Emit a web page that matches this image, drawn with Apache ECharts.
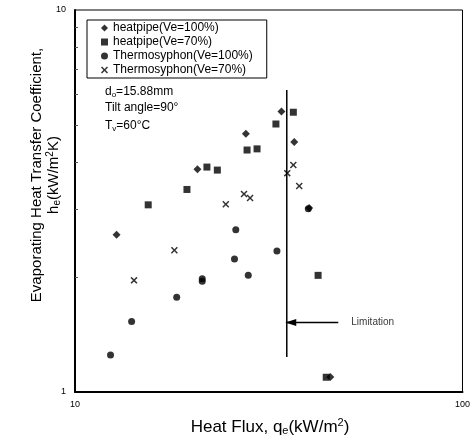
<!DOCTYPE html>
<html>
<head>
<meta charset="utf-8">
<script src="https://cdn.jsdelivr.net/npm/echarts@6/dist/echarts.min.js"></script>
<style>
html,body{margin:0;padding:0;background:#fff;}
#chart{width:473px;height:440px;}
</style>
</head>
<body>
<div id="chart"></div>
<script>
// ---- data (x: heat flux kW/m2, y: h_e kW/m2K) ----
const seriesNames = ['heatpipe(Ve=100%)', 'heatpipe(Ve=70%)', 'Thermosyphon(Ve=100%)', 'Thermosyphon(Ve=70%)'];
const heatpipe100 = [[34.1,5.42],[27.6,4.74],[36.8,4.51],[20.7,3.83],[40.2,3.03],[12.8,2.58],[45.6,1.095]];
const heatpipe70 = [[36.6,5.40],[33.0,5.03],[27.8,4.30],[29.5,4.33],[21.9,3.88],[23.3,3.81],[19.45,3.39],[15.45,3.09],[42.4,2.02],[44.5,1.093]];
const thermo100 = [[40.0,3.02],[26.0,2.66],[33.2,2.34],[25.8,2.23],[28.0,2.02],[21.3,1.98],[21.3,1.95],[18.3,1.77],[14.0,1.53],[12.35,1.25]];
const thermo70 = [[36.6,3.93],[35.3,3.74],[37.9,3.46],[27.3,3.30],[28.3,3.22],[24.5,3.10],[18.05,2.35],[14.2,1.96]];
const limitX = 35.2;
const limitYRange = [1.235, 6.17];
const arrowFromX = 47.8;
const arrowY = 1.52;
const xRange = [10, 100];
const yRange = [1, 10];

const FONT = '"Liberation Sans", Arial, sans-serif';
const xMark = 'path://M0,1.5L1.5,0L5,3.5L8.5,0L10,1.5L6.5,5L10,8.5L8.5,10L5,6.5L1.5,10L0,8.5L3.5,5Z';
const symbols = ['diamond', 'rect', 'circle', xMark];
const sizes = [8, 7, 7, 7];
const datasets = [heatpipe100, heatpipe70, thermo100, thermo70];

const chart = echarts.init(document.getElementById('chart'), null, {renderer: 'canvas'});

const scatterSeries = datasets.map((d, i) => ({
  name: seriesNames[i],
  type: 'scatter',
  data: d,
  symbol: symbols[i],
  symbolSize: sizes[i],
  itemStyle: {color: '#000'},
  z: 5
}));

const option = {
  animation: false,
  backgroundColor: '#fff',
  grid: {left: 75, right: 8, top: 10, bottom: 48, show: true, borderColor: '#000', borderWidth: 1},
  xAxis: {
    type: 'log', logBase: 10, min: xRange[0], max: xRange[1],
    axisLine: {lineStyle: {color: '#000', width: 2}},
    axisTick: {show: false},
    minorTick: {show: false},
    splitLine: {show: false},
    axisLabel: {color: '#000', fontSize: 9, fontFamily: FONT, margin: 8}
  },
  yAxis: {
    type: 'log', logBase: 10, min: yRange[0], max: yRange[1],
    axisLine: {lineStyle: {color: '#000', width: 2}},
    axisTick: {show: false, inside: true},
    minorTick: {show: true, splitNumber: 9, length: 3, lineStyle: {color: '#555'}},
    splitLine: {show: false},
    axisLabel: {color: '#000', fontSize: 9, fontFamily: FONT, margin: 9}
  },
  legend: {
    orient: 'vertical', left: 87, top: 20,
    data: seriesNames.map((n, i) => ({name: n, icon: symbols[i]})),
    itemWidth: 7, itemHeight: 7, itemGap: 2,
    padding: [2, 14, 2, 14],
    borderColor: '#000', borderWidth: 1, backgroundColor: '#fff',
    selectedMode: false,
    textStyle: {color: '#000', fontSize: 12, fontFamily: FONT}
  },
  series: scatterSeries.concat([
    {
      type: 'line', name: 'limitation',
      data: [[limitX, limitYRange[1]], [limitX, limitYRange[0]]],
      symbol: 'none', showSymbol: false,
      itemStyle: {color: '#000'},
      lineStyle: {color: '#000', width: 1.5}, z: 3
    },
    {
      type: 'line', name: 'arrow',
      data: [[arrowFromX, arrowY], [limitX, arrowY]],
      symbol: 'none', showSymbol: false,
      itemStyle: {color: '#000'},
      lineStyle: {color: '#000', width: 1.5},
      markPoint: {
        symbol: 'triangle', symbolSize: [7, 11], symbolRotate: 90, symbolOffset: [4, 0],
        itemStyle: {color: '#000'}, label: {show: false},
        data: [{coord: [limitX, arrowY]}]
      },
      z: 3
    },
    {
      type: 'scatter', name: 'limitLabel',
      data: [[arrowFromX, arrowY]],
      symbolSize: 0,
      itemStyle: {color: '#000'},
      label: {show: true, position: 'right', distance: 13, formatter: 'Limitation', color: '#000', fontSize: 10, fontFamily: FONT}
    }
  ]),
  graphic: [
    {type: 'text', left: 105, top: 86, style: {text: '{n|d}{s|o}{n|=15.88mm}', rich: {n: {fontSize: 12, fontFamily: FONT, fill: '#000'}, s: {fontSize: 8, fontFamily: FONT, fill: '#000', padding: [6, 0, 0, 0]}}}},
    {type: 'text', left: 105, top: 102, style: {text: 'Tilt angle=90°', font: '12px ' + FONT, fill: '#000'}},
    {type: 'text', left: 105, top: 120, style: {text: '{n|T}{s|v}{n|=60°C}', rich: {n: {fontSize: 12, fontFamily: FONT, fill: '#000'}, s: {fontSize: 8, fontFamily: FONT, fill: '#000', padding: [6, 0, 0, 0]}}}},
    {type: 'text', x: 270, y: 427, style: {text: '{n|Heat Flux, q}{s|e}{n|(kW/m}{p|2}{n|)}', align: 'center', verticalAlign: 'middle', rich: {n: {fontSize: 17, fontFamily: FONT, fill: '#000'}, s: {fontSize: 11, fontFamily: FONT, fill: '#000', padding: [7, 0, 0, 0]}, p: {fontSize: 11, fontFamily: FONT, fill: '#000', padding: [0, 0, 8, 0]}}}},
    {type: 'text', x: 37, y: 175, rotation: Math.PI / 2, style: {text: 'Evaporating Heat Transfer Coefficient,', align: 'center', verticalAlign: 'middle', font: '15px ' + FONT, fill: '#000'}},
    {type: 'text', x: 54, y: 175, rotation: Math.PI / 2, style: {text: '{n|h}{s|e}{n|(kW/m}{p|2}{n|K)}', align: 'center', verticalAlign: 'middle', rich: {n: {fontSize: 15, fontFamily: FONT, fill: '#000'}, s: {fontSize: 10, fontFamily: FONT, fill: '#000', padding: [7, 0, 0, 0]}, p: {fontSize: 10, fontFamily: FONT, fill: '#000', padding: [0, 0, 8, 0]}}}}
  ]
};
chart.setOption(option);
</script>
</body>
</html>
